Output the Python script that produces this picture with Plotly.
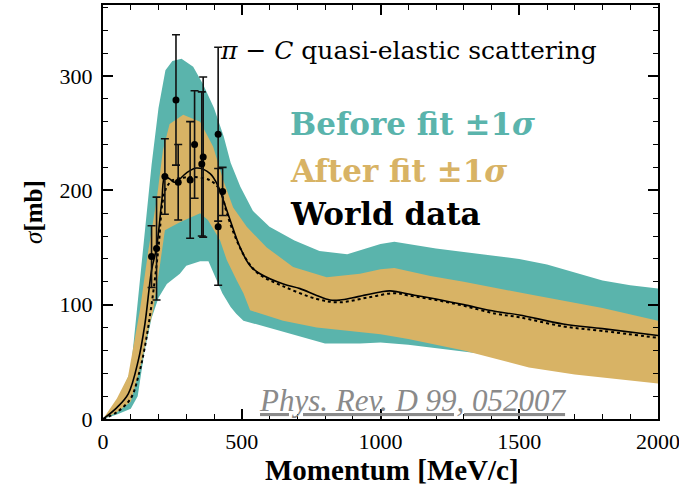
import plotly.graph_objects as go

# ---- pi-C quasi-elastic cross section: uncertainty bands (MeV/c, mb) ----
before_hi_p = [0, 50, 100, 125, 150, 175, 200, 225, 250, 283, 325, 360, 400, 435, 460,
               495, 540, 600, 690, 780, 880, 930, 1000, 1050, 1100, 1200, 1300, 1400,
               1500, 1600, 1700, 1800, 1900, 2000]
before_hi = [0, 15, 42, 100, 160, 222, 272, 305, 313, 315, 308, 293, 272, 247, 224,
             203, 182, 168, 156, 147, 144, 148, 153, 155, 153, 149, 146, 143,
             140, 135, 128, 121, 117, 114]
before_lo_p = [0, 50, 100, 125, 150, 175, 200, 230, 277, 300, 350, 380, 400, 430, 460,
               480, 506, 590, 710, 800, 926, 1000, 1100, 1200, 1300, 1400, 1600, 1800, 2000]
before_lo = [0, 4, 9, 20, 60, 88, 106, 118, 127, 134, 138, 138, 127, 110, 98,
             92, 86, 80, 72, 66, 66, 67, 65, 62, 59, 56, 50, 45, 40]

after_hi_p = [0, 50, 90, 133, 163, 193, 216, 240, 289, 350, 397, 433, 469, 518, 590,
              685, 806, 926, 1000, 1050, 1180, 1300, 1535, 1800, 2000]
after_hi = [0, 18, 37, 95, 147, 191, 235, 258, 266, 260, 238, 209, 185, 168, 150,
            133, 124, 127, 131, 132, 125, 120, 109, 97, 86]
after_lo_p = [0, 50, 100, 140, 160, 181, 206, 223, 277, 350, 378, 422, 446, 482, 506,
              530, 649, 770, 926, 1000, 1100, 1200, 1300, 1400, 1535, 1700, 1850, 2000]
after_lo = [0, 6, 15, 50, 75, 95, 136, 165, 172, 180, 174, 156, 139, 121, 110,
            95, 86, 80, 76, 74, 70, 65, 60, 54, 45, 39, 35, 31]

# ---- central curves ----
nominal_p = [0, 50, 91, 127, 151, 175, 193, 212, 223, 240, 259, 300, 337, 386, 416, 434,
             458, 494, 530, 566, 650, 710, 770, 818, 854, 900, 937, 1000, 1034, 1128,
             1200, 1300, 1416, 1500, 1658, 1800, 2000]
nominal = [0, 10, 22, 51, 83, 130, 150, 191, 212, 210, 207, 215, 219.5, 214.6, 203, 191,
           174, 150, 134, 127, 118, 114, 108, 104, 104, 106, 108, 111, 112, 108,
           105, 100, 94, 91, 83, 79, 73]
fitted_p = [0, 50, 100, 130, 150, 175, 200, 215, 230, 253, 290, 325, 386, 422, 446, 482,
            518, 560, 650, 770, 850, 950, 1050, 1100, 1200, 1300, 1416, 1500, 1658, 1800, 2000]
fitted = [0, 6, 18, 40, 62, 100, 150, 190, 203, 209, 211, 211.6, 208.7, 200, 180, 156,
          139, 127, 116, 105, 102, 106, 110, 108, 104, 99, 92, 89, 81, 77, 71]

# ---- world data points ----
data_p = [175, 193, 223, 263, 271, 314, 330, 356, 361, 415, 415, 431]
data_xs = [142, 149, 212, 279, 207, 209, 240, 223, 229, 249, 168, 199]
data_err = [27, 45, 33, 57, 33, 51, 47, 63, 70, 76, 51, 21]

TEAL = "#5ab4ac"
GOLD = "#d8b365"

fig = go.Figure()


def band(xs_hi, ys_hi, xs_lo, ys_lo, color):
    return go.Scatter(
        x=list(xs_hi) + list(xs_lo)[::-1],
        y=list(ys_hi) + list(ys_lo)[::-1],
        fill="toself", fillcolor=color, mode="lines",
        line=dict(width=0, color=color), hoverinfo="skip", showlegend=False,
    )


fig.add_trace(band(before_hi_p, before_hi, before_lo_p, before_lo, TEAL))
fig.add_trace(band(after_hi_p, after_hi, after_lo_p, after_lo, GOLD))

fig.add_trace(go.Scatter(x=fitted_p, y=fitted, mode="lines", line_shape="spline",
                         line=dict(color="black", width=2, dash="dot"), showlegend=False))
fig.add_trace(go.Scatter(x=nominal_p, y=nominal, mode="lines", line_shape="spline",
                         line=dict(color="black", width=1.6), showlegend=False))

fig.add_trace(go.Scatter(
    x=data_p, y=data_xs, mode="markers",
    marker=dict(color="black", size=7),
    error_y=dict(type="data", array=data_err, visible=True, color="#111111",
                 thickness=1.6, width=4),
    showlegend=False,
))

serif = "Liberation Serif"
label_serif = "DejaVu Serif"

axis_common = dict(
    showline=True, linewidth=2, linecolor="black", mirror="allticks",
    ticks="inside", ticklen=10, tickwidth=1.5, tickcolor="black",
    showgrid=False, zeroline=False, ticklabeloverflow="allow", automargin=False,
    tickfont=dict(family=serif, size=22, color="black"),
)

fig.update_xaxes(
    range=[0, 2000], dtick=500, tick0=0,
    minor=dict(ticks="inside", ticklen=5, tickwidth=1.3, dtick=100, tickcolor="black",
               showgrid=False),
    ticklabelstandoff=2,
    **axis_common,
)
fig.update_yaxes(
    range=[0, 362], dtick=100, tick0=0,
    minor=dict(ticks="inside", ticklen=5, tickwidth=1.3, dtick=20, tickcolor="black",
               showgrid=False),
    ticklabelstandoff=4,
    title=dict(text="<i>σ</i><b>[mb]</b>",
               font=dict(family=serif, size=25, color="black"), standoff=10),
    **axis_common,
)

# x-axis title
fig.add_annotation(x=0.52, y=-0.123, xref="paper", yref="paper",
                   xanchor="center", yanchor="middle",
                   text="<b>Momentum [MeV/c]</b>", showarrow=False,
                   font=dict(family=serif, size=29, color="black"))

fig.add_annotation(x=414, y=322, xref="x", yref="y", xanchor="left", yanchor="middle",
                   text="<i>π</i> − <i>C</i> quasi-elastic scattering", showarrow=False,
                   font=dict(family=label_serif, size=25, color="black"))
fig.add_annotation(x=667, y=258, xref="x", yref="y", xanchor="left", yanchor="middle",
                   text="<b>Before fit ±1<i>σ</i></b>", showarrow=False,
                   font=dict(family=label_serif, size=31, color=TEAL))
fig.add_annotation(x=667, y=217, xref="x", yref="y", xanchor="left", yanchor="middle",
                   text="<b>After fit ±1<i>σ</i></b>", showarrow=False,
                   font=dict(family=label_serif, size=31, color=GOLD))
fig.add_annotation(x=667, y=179, xref="x", yref="y", xanchor="left", yanchor="middle",
                   text="<b>World data</b>", showarrow=False,
                   font=dict(family=label_serif, size=31, color="black"))
fig.add_annotation(x=555, y=16, xref="x", yref="y", xanchor="left", yanchor="middle",
                   text="<u><i>Phys. Rev. D 99, 052007</i></u>", showarrow=False,
                   font=dict(family=serif, size=31, color="#8a8a8a"))

fig.update_layout(
    width=679, height=486,
    margin=dict(l=103, r=21, t=5, b=67, autoexpand=False),
    paper_bgcolor="white", plot_bgcolor="white",
    showlegend=False,
)

fig.write_html("out.html")
